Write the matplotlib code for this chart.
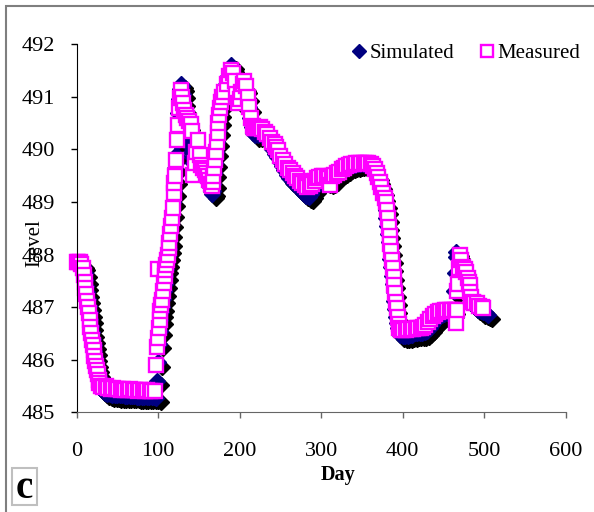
import numpy as np
import matplotlib.pyplot as plt
from matplotlib.patches import Rectangle
from matplotlib.transforms import ScaledTranslation

plt.rcParams['font.family'] = ['Liberation Serif', 'DejaVu Serif']

# Measured water level (day, level)
meas_day = [0, 2, 4, 6, 8, 9, 10, 11, 12, 13, 14, 15, 16, 17, 18, 19, 20, 21, 22, 23,
            24, 25, 26, 27, 28, 30, 33, 36, 39, 42, 45, 48, 51, 54, 57, 60, 63, 66, 69, 72,
            75, 78, 81, 84, 87, 90, 93, 96, 98, 99, 99.5, 100, 101, 102, 103, 104, 105, 106,
            107, 108, 109, 110, 111, 112, 113, 114, 115, 116, 117, 118, 119, 120, 121, 122,
            123, 124, 126, 127, 128, 129, 130, 132, 134, 136, 138, 140, 142, 143, 145, 147,
            149, 151, 153, 155, 157, 159, 161, 163, 165, 166, 167, 168, 169, 170, 171, 172,
            173, 174, 175, 176, 177, 179, 181, 184, 187, 190, 192, 194, 196, 198, 200, 202,
            204, 206, 208, 210, 212, 214, 216, 218, 220, 222, 225, 228, 231, 234, 237, 240,
            243, 245, 247, 250, 253, 256, 259, 262, 265, 268, 271, 274, 277, 280, 283, 286,
            289, 292, 295, 298, 301, 304, 307, 310, 311, 313, 316, 319, 322, 325, 328, 331,
            334, 337, 340, 343, 346, 349, 352, 355, 358, 361, 364, 366, 368, 370, 372, 374,
            376, 378, 380, 381, 382, 383, 384, 385, 386, 387, 388, 389, 390, 391, 392, 393,
            394, 395, 396, 398, 401, 404, 407, 410, 413, 416, 419, 422, 425, 428, 431, 434,
            437, 440, 443, 446, 449, 452, 455, 458, 461, 464, 466, 467, 466.5, 468, 469, 470,
            472, 474, 476, 478, 480, 481, 482, 483, 484, 486, 488, 491, 494, 497, 499]
meas_level = [487.86, 487.86, 487.85, 487.83, 487.75, 487.62, 487.48, 487.36, 487.25, 487.12,
              487.0, 486.88, 486.75, 486.62, 486.5, 486.38, 486.28, 486.18, 486.08, 485.98,
              485.88, 485.8, 485.72, 485.62, 485.55, 485.5, 485.48, 485.5, 485.47, 485.45,
              485.46, 485.44, 485.45, 485.43, 485.44, 485.42, 485.43, 485.44, 485.42, 485.43,
              485.41, 485.42, 485.43, 485.41, 485.42, 485.4, 485.41, 485.4, 485.9, 486.24,
              487.72, 486.42, 486.6, 486.76, 486.93, 487.05, 487.14, 487.3, 487.46, 487.6,
              487.7, 487.8, 487.9, 488.0, 488.12, 488.22, 488.4, 488.55, 488.7, 488.88,
              489.17, 489.36, 489.5, 489.8, 490.18, 490.47, 490.78, 490.97, 491.13, 491.0,
              490.88, 490.75, 490.65, 490.6, 490.55, 490.48, 490.35, 489.52, 489.75, 489.95,
              490.18, 489.9, 489.7, 489.65, 489.6, 489.55, 489.5, 489.42, 489.35, 489.3,
              489.38, 489.5, 489.65, 489.8, 489.95, 490.15, 490.32, 490.5, 490.65, 490.78,
              490.9, 491.0, 491.1, 491.25, 491.4, 491.52, 491.45, 491.3, 491.05, 490.88,
              490.95, 491.1, 491.25, 491.3, 491.2, 491.0, 490.8, 490.6, 490.45, 490.4,
              490.4, 490.4, 490.42, 490.38, 490.33, 490.3, 490.22, 490.15, 490.1, 490.05,
              489.98, 489.88, 489.8, 489.72, 489.65, 489.6, 489.55, 489.5, 489.45, 489.4,
              489.36, 489.32, 489.28, 489.3, 489.35, 489.4, 489.45, 489.48, 489.5, 489.5,
              489.48, 489.46, 489.32, 489.5, 489.52, 489.55, 489.58, 489.62, 489.65, 489.68,
              489.7, 489.72, 489.73, 489.74, 489.74, 489.75, 489.75, 489.75, 489.74, 489.72,
              489.68, 489.62, 489.55, 489.48, 489.38, 489.28, 489.18, 489.08, 489.0, 488.85,
              488.7, 488.53, 488.36, 488.21, 488.06, 487.9, 487.74, 487.58, 487.42, 487.26,
              487.1, 486.98, 486.82, 486.68, 486.6, 486.57, 486.57, 486.57, 486.58, 486.58,
              486.59, 486.6, 486.6, 486.6, 486.62, 486.66, 486.72, 486.78, 486.83, 486.87,
              486.9, 486.92, 486.93, 486.94, 486.95, 486.95, 486.95, 486.95, 486.7, 486.95,
              487.3, 487.45, 487.75, 488.0, 487.9, 487.77, 487.72, 487.67, 487.55, 487.48,
              487.42, 487.29, 487.2, 487.1, 487.08, 487.07, 487.03, 487.0, 486.98]

# Simulated water level (day, level)
sim_day = [0, 3, 6, 8, 10, 11, 12, 13, 14, 15, 16, 17, 18, 19, 20, 21, 22, 23, 24, 25,
           26, 27, 28, 29, 30, 32, 35, 38, 41, 44, 47, 50, 53, 56, 59, 62, 65, 68, 71, 74,
           77, 80, 83, 86, 89, 92, 95, 98, 99, 100, 101, 102, 103, 104, 105, 106, 107, 108,
           109, 110, 111, 112, 113, 114, 115, 116, 117, 118, 119, 120, 121, 122, 123, 124,
           125, 126, 127, 128, 129, 130, 131, 132, 133, 134, 135, 136, 137, 138, 139, 140,
           141, 142, 143, 145, 147, 149, 151, 153, 155, 157, 159, 161, 163, 165, 166, 167,
           168, 169, 170, 171, 172, 173, 174, 175, 176, 177, 179, 181, 183, 185, 187, 189,
           190, 191, 193, 195, 197, 199, 201, 203, 205, 207, 209, 211, 213, 215, 217, 219,
           222, 225, 228, 231, 234, 237, 240, 243, 246, 249, 252, 255, 258, 261, 264, 267,
           270, 273, 276, 279, 282, 285, 288, 291, 294, 297, 300, 303, 306, 309, 312, 315,
           318, 321, 324, 327, 330, 333, 336, 339, 342, 345, 348, 351, 354, 357, 360, 363,
           366, 368, 370, 372, 374, 376, 378, 379, 380, 381, 382, 383, 384, 385, 386, 387,
           388, 389, 390, 391, 392, 393, 394, 395, 397, 400, 403, 406, 409, 412, 415, 418,
           421, 424, 427, 430, 433, 436, 439, 442, 445, 448, 451, 454, 457, 460, 462, 463,
           464, 465, 466, 468, 470, 472, 474, 476, 478, 480, 482, 484, 487, 490, 493, 496,
           499, 502, 505]
sim_level = [487.85, 487.85, 487.83, 487.78, 487.65, 487.52, 487.4, 487.28, 487.15, 487.02,
             486.9, 486.77, 486.65, 486.52, 486.4, 486.28, 486.17, 486.06, 485.95, 485.85,
             485.76, 485.67, 485.58, 485.5, 485.45, 485.4, 485.37, 485.35, 485.34, 485.33,
             485.33, 485.32, 485.32, 485.32, 485.31, 485.31, 485.31, 485.31, 485.31, 485.3,
             485.3, 485.3, 485.3, 485.3, 485.3, 485.3, 485.29, 485.28, 485.6, 485.95,
             486.3, 486.55, 486.75, 486.9, 487.0, 487.15, 487.3, 487.45, 487.6, 487.72,
             487.85, 487.97, 488.1, 488.25, 488.42, 488.6, 488.8, 489.0, 489.2, 489.42,
             489.65, 489.9, 490.15, 490.45, 490.7, 490.95, 491.15, 491.25, 491.2, 491.05,
             490.9, 490.78, 490.68, 490.6, 490.52, 490.45, 490.35, 490.25, 490.15, 490.05,
             489.95, 489.85, 489.75, 489.7, 489.75, 489.85, 489.8, 489.65, 489.55, 489.5,
             489.45, 489.4, 489.3, 489.2, 489.15, 489.2, 489.35, 489.55, 489.75, 489.95,
             490.15, 490.35, 490.55, 490.7, 490.85, 490.95, 491.05, 491.15, 491.25, 491.38,
             491.5, 491.58, 491.6, 491.55, 491.4, 491.2, 491.0, 490.9, 490.95, 491.1,
             491.2, 491.15, 491.0, 490.8, 490.6, 490.42, 490.32, 490.28, 490.28, 490.3,
             490.27, 490.22, 490.18, 490.1, 490.0, 489.92, 489.85, 489.77, 489.68, 489.6,
             489.52, 489.45, 489.4, 489.35, 489.3, 489.25, 489.2, 489.16, 489.12, 489.1,
             489.15, 489.25, 489.32, 489.38, 489.42, 489.43, 489.4, 489.38, 489.4, 489.45,
             489.5, 489.53, 489.57, 489.6, 489.63, 489.66, 489.68, 489.7, 489.71, 489.72,
             489.73, 489.73, 489.72, 489.7, 489.67, 489.62, 489.56, 489.5, 489.42, 489.33,
             489.22, 489.1, 488.97, 488.85, 488.7, 488.55, 488.4, 488.24, 488.08, 487.92,
             487.76, 487.6, 487.44, 487.28, 487.12, 486.96, 486.82, 486.7, 486.6, 486.52,
             486.47, 486.45, 486.45, 486.46, 486.47, 486.48, 486.5, 486.5, 486.5, 486.5,
             486.52, 486.55, 486.6, 486.66, 486.72, 486.78, 486.82, 486.85, 486.87, 486.88,
             486.89, 486.9, 486.95, 487.3, 487.65, 487.95, 488.05, 488.0, 487.85, 487.7,
             487.55, 487.45, 487.35, 487.25, 487.15, 487.08, 487.02, 486.98, 486.95, 486.92,
             486.9, 486.88, 486.86]

x_ticks = [0, 100, 200, 300, 400, 500, 600]
y_ticks = [485, 486, 487, 488, 489, 490, 491, 492]

fig = plt.figure(figsize=(5.94, 5.12), dpi=100)
ax = fig.add_axes([0.1288, 0.1947, 0.8236, 0.7188])

# black shadow under the diamonds
shadow = ax.transData + ScaledTranslation(3 / 72, -3 / 72, fig.dpi_scale_trans)
ax.plot(sim_day, sim_level, 'D', color='black', markersize=8.5, transform=shadow,
        linestyle='none', clip_on=False)
ax.plot(sim_day, sim_level, 'D', color='#000080', markersize=8.5, linestyle='none',
        label='Simulated', clip_on=False)
ax.plot(meas_day, meas_level, 's', markerfacecolor='white', markeredgecolor='#ff00ff',
        markeredgewidth=1.7, markersize=10.5, linestyle='none', label='Measured',
        clip_on=False)

ax.set_xlim(0, 600)
ax.set_ylim(485, 492)
ax.set_xticks(x_ticks)
ax.set_yticks(y_ticks)
ax.tick_params(axis='y', direction='out', length=4.5, width=1, labelsize=16, pad=11)
ax.tick_params(axis='x', direction='out', length=4.5, width=1, labelsize=16, pad=17,
               color='#666666')
ax.spines['top'].set_visible(False)
ax.spines['right'].set_visible(False)
ax.spines['bottom'].set_color('#666666')
ax.spines['left'].set_color('black')

fig.text(338 / 594, 1 - 475 / 512, 'Day', fontsize=14.5, fontweight='bold',
         ha='center', va='center')
fig.text(35 / 594, 1 - 243 / 512, 'Level', fontsize=15, rotation=90,
         ha='center', va='center')

fig.legend(loc='center', bbox_to_anchor=(466 / 594, 1 - 53 / 512), ncol=2,
           frameon=False, fontsize=15, handlelength=0.7, handletextpad=0.15,
           columnspacing=1.2, numpoints=1, borderpad=0, markerscale=0.8)

# outer frame (left and top edges visible)
fig.patches.append(Rectangle((6 / 594, -0.2), 1.5, 1 - 6 / 512 + 0.2,
                             transform=fig.transFigure, fill=False,
                             edgecolor='#7f7f7f', linewidth=1.5))
# panel label
fig.patches.append(Rectangle((12 / 594, 1 - 505 / 512), 25 / 594, 37 / 512,
                             transform=fig.transFigure, fill=False,
                             edgecolor='#bfbfbf', linewidth=1.5))
fig.text(24.5 / 594, 1 - 489 / 512, 'c', fontsize=28, fontweight='bold',
         ha='center', va='center')

plt.savefig('out.png', dpi=100)
